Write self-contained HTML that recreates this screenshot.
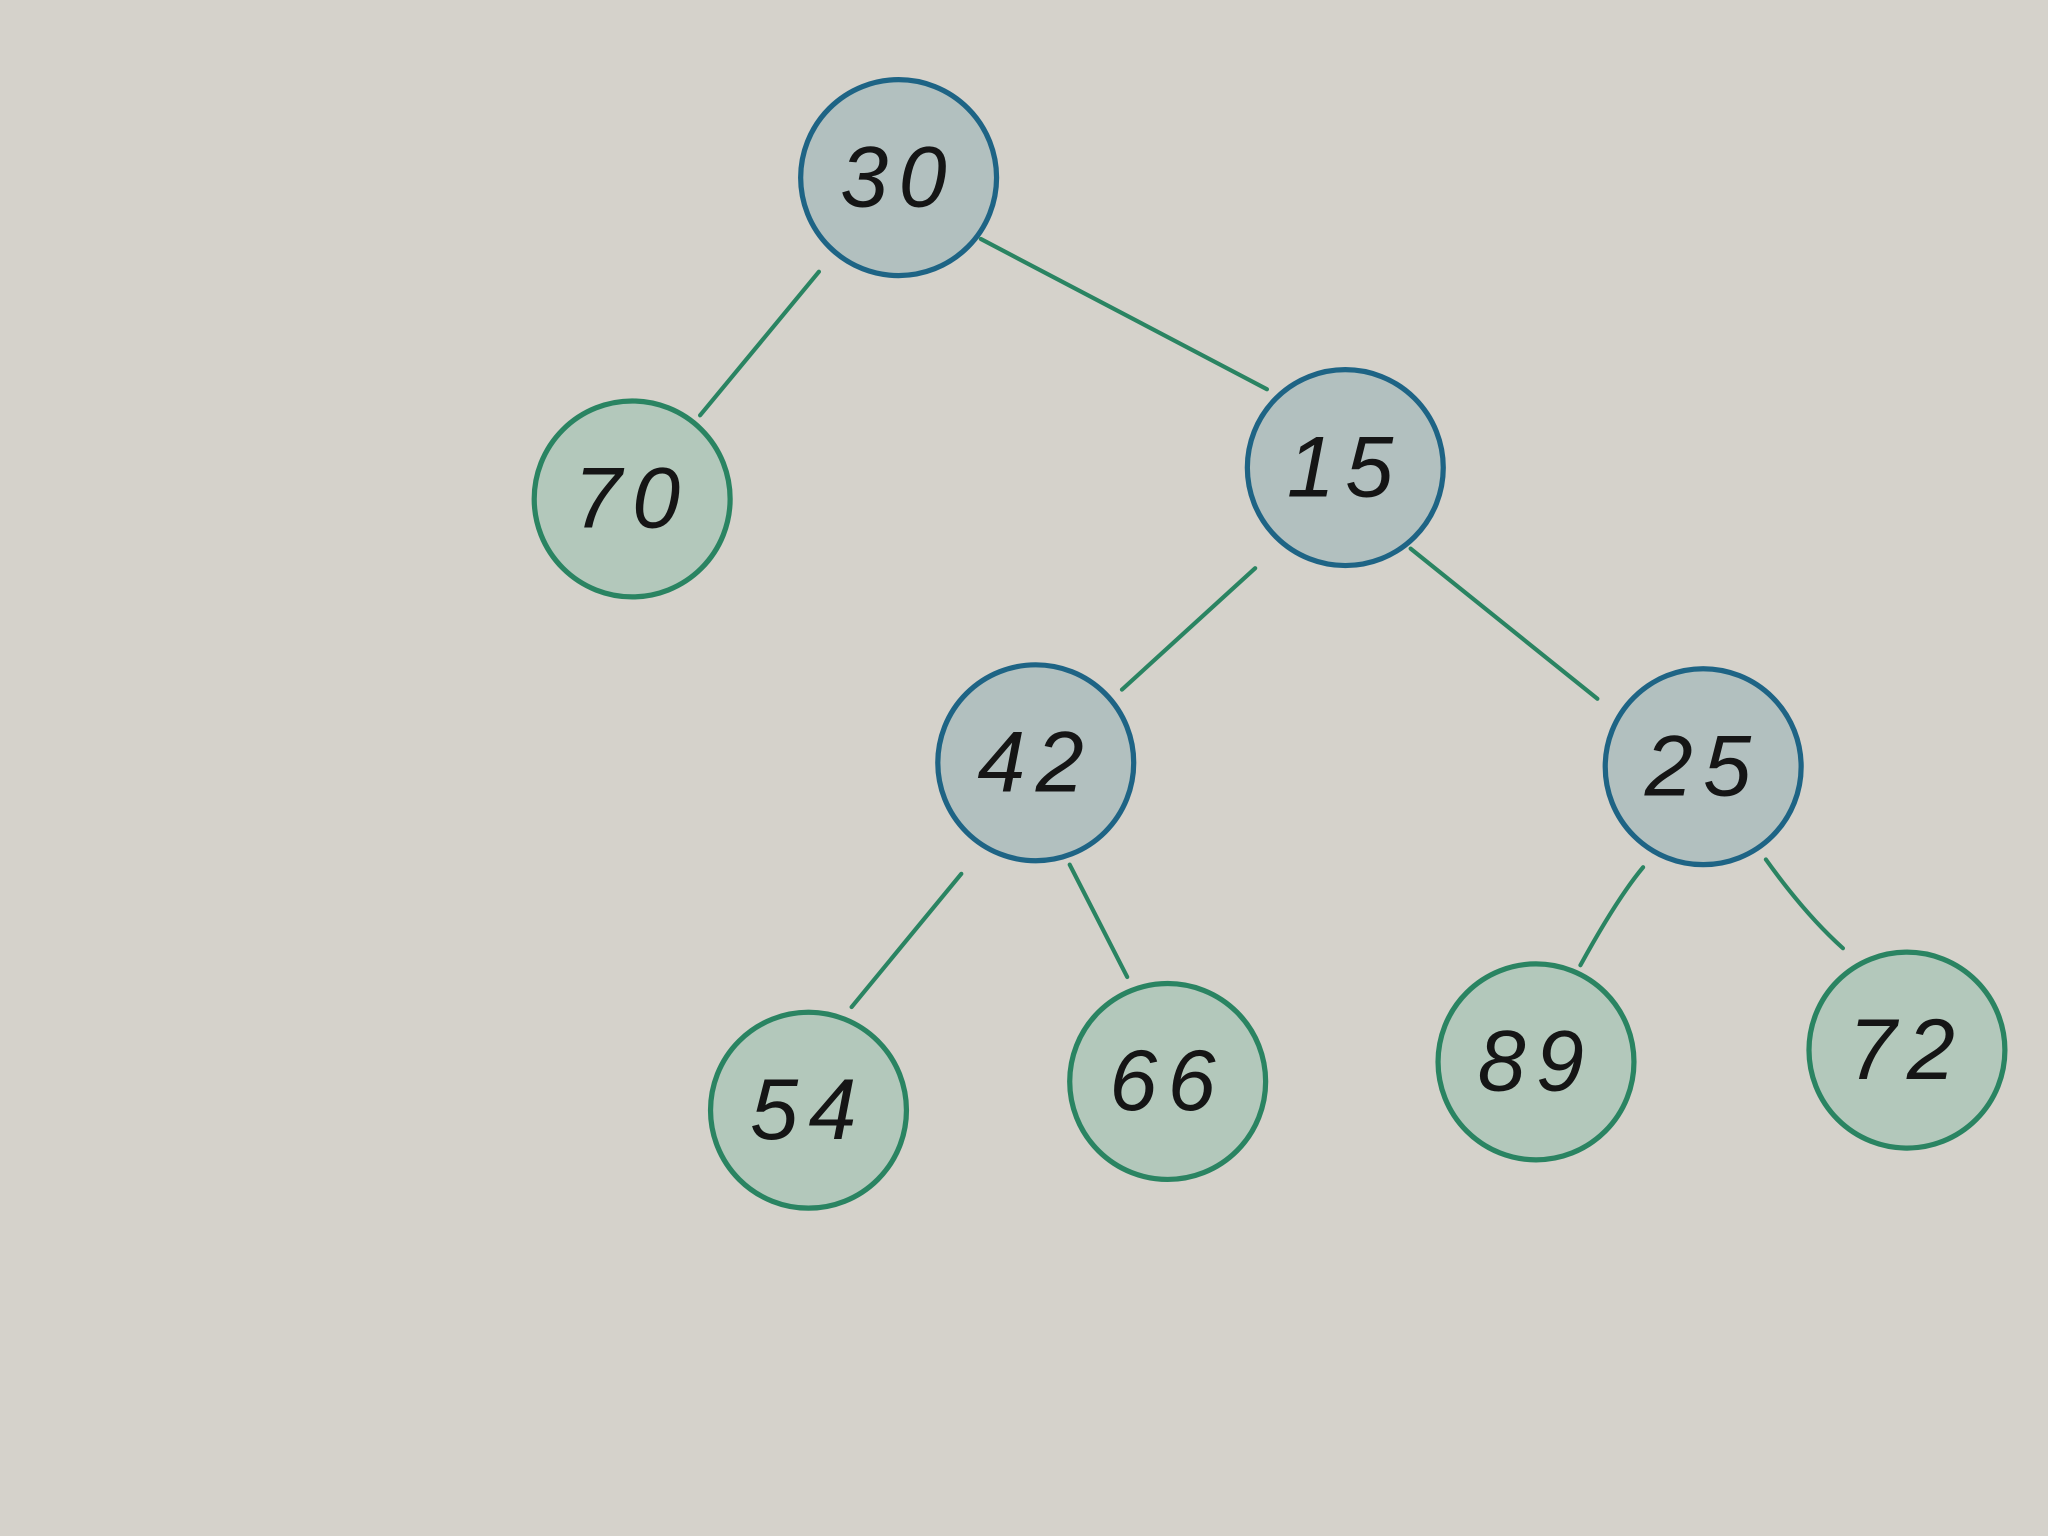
<!DOCTYPE html>
<html>
<head>
<meta charset="utf-8">
<style>
  html,body{margin:0;padding:0;background:#d5d2cb;}
  svg{display:block;}
</style>
</head>
<body>
<svg id="tree" width="2048" height="1536" viewBox="0 0 1568 1176" xmlns="http://www.w3.org/2000/svg">
  <rect x="0" y="0" width="1568" height="1176" fill="#d5d2cb"/>
  <g id="edges"></g>
  <g id="nodes"></g>
</svg>
<script>
const labels = ["30","70","15","42","25","54","66","89","72"];
const kinds = ["inner","leaf","inner","inner","inner","leaf","leaf","leaf","leaf"];
const nodeX = [688,484,1030,793,1304,619,894,1176,1460];
const nodeY = [136,382,358,584,587,850,828,813,804];
const edgeFrom = [[627,208],[751,183],[961,435],[1080,420],[736,669],[819,662],[1258,664],[1352,658]];
const edgeTo = [[536,318],[970,298],[859,528],[1223,535],[652,771],[863,748],[1210,739],[1411,726]];
const edgeCtrl = [null,null,null,null,null,null,[1238,688],[1382,700]];

const NS = "http://www.w3.org/2000/svg";
const eg = document.getElementById("edges");
const ng = document.getElementById("nodes");

for (let i = 0; i < edgeFrom.length; i++) {
  const p = document.createElementNS(NS, "path");
  const a = edgeFrom[i], b = edgeTo[i], c = edgeCtrl[i];
  const d = c ? `M${a[0]},${a[1]} Q${c[0]},${c[1]} ${b[0]},${b[1]}` : `M${a[0]},${a[1]} L${b[0]},${b[1]}`;
  p.setAttribute("d", d);
  p.setAttribute("stroke", "#2a8462");
  p.setAttribute("stroke-width", "3.2");
  p.setAttribute("fill", "none");
  p.setAttribute("stroke-linecap", "round");
  
  
  eg.appendChild(p);
}

for (let i = 0; i < labels.length; i++) {
  const g = document.createElementNS(NS, "g");
  
  
  const c = document.createElementNS(NS, "ellipse");
  c.setAttribute("cx", nodeX[i]);
  c.setAttribute("cy", nodeY[i]);
  c.setAttribute("rx", 75);
  c.setAttribute("ry", 75);
  const inner = kinds[i] === "inner";
  c.setAttribute("fill", inner ? "#b2c0bf" : "#b3c8bb");
  c.setAttribute("stroke", inner ? "#1e6485" : "#2a8462");
  c.setAttribute("stroke-width", "4");
  
  
  g.appendChild(c);
  const t = document.createElementNS(NS, "text");
  t.setAttribute("x", nodeX[i]);
  t.setAttribute("y", nodeY[i] + 22);
  t.setAttribute("text-anchor", "middle");
  t.setAttribute("font-family", "'Liberation Sans', sans-serif");
  t.setAttribute("font-style", "italic");
  t.setAttribute("font-size", "66");
  t.setAttribute("fill", "#151515");
  t.setAttribute("letter-spacing", "8");
  t.textContent = labels[i];
  
  
  g.appendChild(t);
  ng.appendChild(g);
}
</script>
</body>
</html>
